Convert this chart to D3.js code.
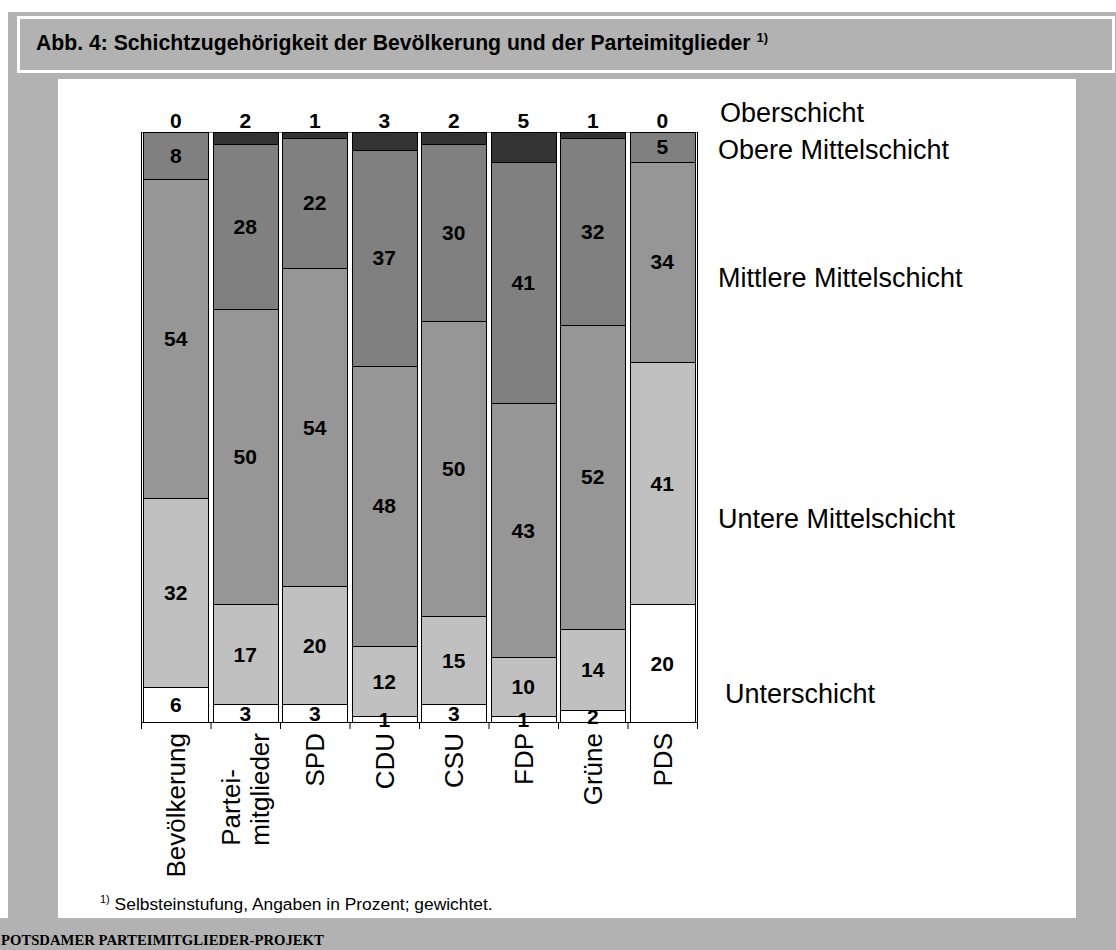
<!DOCTYPE html>
<html>
<head>
<meta charset="utf-8">
<script src="https://cdn.jsdelivr.net/npm/d3@7"></script>
<style>
  html, body { margin: 0; padding: 0; background: #fff; }
  svg { display: block; }
</style>
</head>
<body>
<div id="chart"></div>
<script>
// data
const categories = ['Bevölkerung', 'Partei-\nmitglieder', 'SPD', 'CDU', 'CSU', 'FDP', 'Grüne', 'PDS']
const classes = ['Unterschicht', 'Untere Mittelschicht', 'Mittlere Mittelschicht', 'Obere Mittelschicht', 'Oberschicht']
const unterschicht = [6, 3, 3, 1, 3, 1, 2, 20]
const untereMittelschicht = [32, 17, 20, 12, 15, 10, 14, 41]
const mittlereMittelschicht = [54, 50, 54, 48, 50, 43, 52, 34]
const obereMittelschicht = [8, 28, 22, 37, 30, 41, 32, 5]
const oberschicht = [0, 2, 1, 3, 2, 5, 1, 0]

const classColors = ['#ffffff', '#c0c0c0', '#969696', '#808080', '#333333']
// where the class names sit on the right (baseline y, x)
const classLabelY = [703, 528, 287, 159, 122]
const classLabelX = [725, 718, 718, 718, 720]

const W = 1116, H = 950
const plot = { left: 141, right: 697, top: 132, bottom: 722 }

const rows = categories.map((c, i) => ({
  cat: c,
  [classes[0]]: unterschicht[i],
  [classes[1]]: untereMittelschicht[i],
  [classes[2]]: mittlereMittelschicht[i],
  [classes[3]]: obereMittelschicht[i],
  [classes[4]]: oberschicht[i]
}))

const series = d3.stack().keys(classes).offset(d3.stackOffsetExpand)(rows)

const svg = d3.select('#chart').append('svg')
  .attr('width', W)
  .attr('height', H)
  .style('font-family', 'Arial, "Liberation Sans", sans-serif')

// frame
svg.append('rect').attr('x', 8).attr('y', 12).attr('width', W - 8).attr('height', 906).attr('fill', '#b2b2b2')
svg.append('rect').attr('x', 0).attr('y', 918).attr('width', W).attr('height', 32).attr('fill', '#b2b2b2')
svg.append('rect')
  .attr('x', 18.5).attr('y', 17.5).attr('width', 1095).attr('height', 54)
  .attr('fill', '#b2b2b2').attr('stroke', '#fff').attr('stroke-width', 3)
svg.append('rect').attr('x', 58).attr('y', 79).attr('width', 1018).attr('height', 839).attr('fill', '#fff')

const title = svg.append('text')
  .attr('x', 36).attr('y', 50)
  .attr('font-size', 21.2).attr('font-weight', 'bold')
  .text('Abb. 4: Schichtzugehörigkeit der Bevölkerung und der Parteimitglieder ')
title.append('tspan').attr('font-size', 13).attr('dy', -8).text('1)')

const x = d3.scaleBand().domain(categories).range([plot.left, plot.right])
  .paddingInner(4 / 69.5).paddingOuter(2 / 69.5)
const y = d3.scaleLinear().domain([0, 1]).range([plot.bottom, plot.top])
const edge = d3.scaleLinear().domain([0, categories.length]).range([plot.left, plot.right])

// plot border (top is grey)
svg.append('line')
  .attr('x1', plot.left).attr('x2', plot.right)
  .attr('y1', plot.top + 0.5).attr('y2', plot.top + 0.5)
  .attr('stroke', '#808080')
svg.append('line')
  .attr('x1', plot.left + 0.5).attr('x2', plot.left + 0.5)
  .attr('y1', plot.top).attr('y2', plot.bottom)
  .attr('stroke', '#000')
svg.append('line')
  .attr('x1', plot.right + 0.5).attr('x2', plot.right + 0.5)
  .attr('y1', plot.top).attr('y2', plot.bottom)
  .attr('stroke', '#000')

const layers = svg.append('g').selectAll('g')
  .data(series)
  .join('g')
  .attr('fill', (d, i) => classColors[i])

layers.selectAll('rect')
  .data(d => d)
  .join('rect')
  .attr('x', d => Math.round(x(d.data.cat)) + 0.5)
  .attr('width', Math.round(x.bandwidth()) - 1)
  .attr('y', d => Math.round(y(d[1])) + 0.5)
  .attr('height', d => Math.round(y(d[0])) - Math.round(y(d[1])))
  .attr('stroke', '#000')
  .attr('stroke-width', 1)

// x axis, ticks at the category borders
svg.append('g')
  .attr('transform', `translate(0,${plot.bottom})`)
  .call(d3.axisBottom(edge).ticks(categories.length).tickFormat('').tickSizeInner(7).tickSizeOuter(0))
  .call(g => g.select('.domain').attr('stroke', '#000'))
  .call(g => g.selectAll('.tick line').attr('stroke', '#000'))

// value labels
const labels = svg.append('g')
  .attr('font-size', 21).attr('font-weight', 'bold')
  .attr('text-anchor', 'middle')

series.forEach((s, si) => {
  const values = [unterschicht, untereMittelschicht, mittlereMittelschicht, obereMittelschicht, oberschicht][si]
  labels.selectAll(null)
    .data(s)
    .join('text')
    .attr('x', d => x(d.data.cat) + x.bandwidth() / 2)
    .attr('y', d => si === classes.length - 1 ? y(1) - 12 : (y(d[0]) + y(d[1])) / 2)
    .attr('dy', '0.36em')
    .text((d, i) => values[i])
})

// category labels, rotated
const catG = svg.append('g').attr('font-size', 26)
categories.forEach(c => {
  const lines = c.split('\n')
  const cx = x(c) + x.bandwidth() / 2
  const g = catG.append('g')
  const texts = lines.map(l => g.append('text')
    .attr('text-anchor', 'start')
    .text(l))
  const maxLen = d3.max(texts, t => t.node().getComputedTextLength())
  texts.forEach((t, li) => {
    const off = (li - (lines.length - 1) / 2) * 29 + 9.5
    t.attr('transform', `translate(${cx + off},${733 + maxLen}) rotate(-90)`)
  })
})

// class names on the right
svg.append('g').attr('font-size', 27)
  .selectAll('text')
  .data(classes)
  .join('text')
  .attr('x', (d, i) => classLabelX[i])
  .attr('y', (d, i) => classLabelY[i])
  .text(d => d)

// footnote + source
const foot = svg.append('text').attr('x', 100).attr('y', 910).attr('font-size', 17.4)
foot.append('tspan').attr('font-size', 11).attr('dy', -7).text('1)')
foot.append('tspan').attr('dy', 7).text(' Selbsteinstufung, Angaben in Prozent; gewichtet.')

svg.append('text')
  .attr('x', 1).attr('y', 945)
  .attr('font-family', '"Liberation Serif", "Times New Roman", serif')
  .attr('font-size', 14.7).attr('font-weight', 'bold')
  .text('POTSDAMER PARTEIMITGLIEDER-PROJEKT')
</script>
</body>
</html>
